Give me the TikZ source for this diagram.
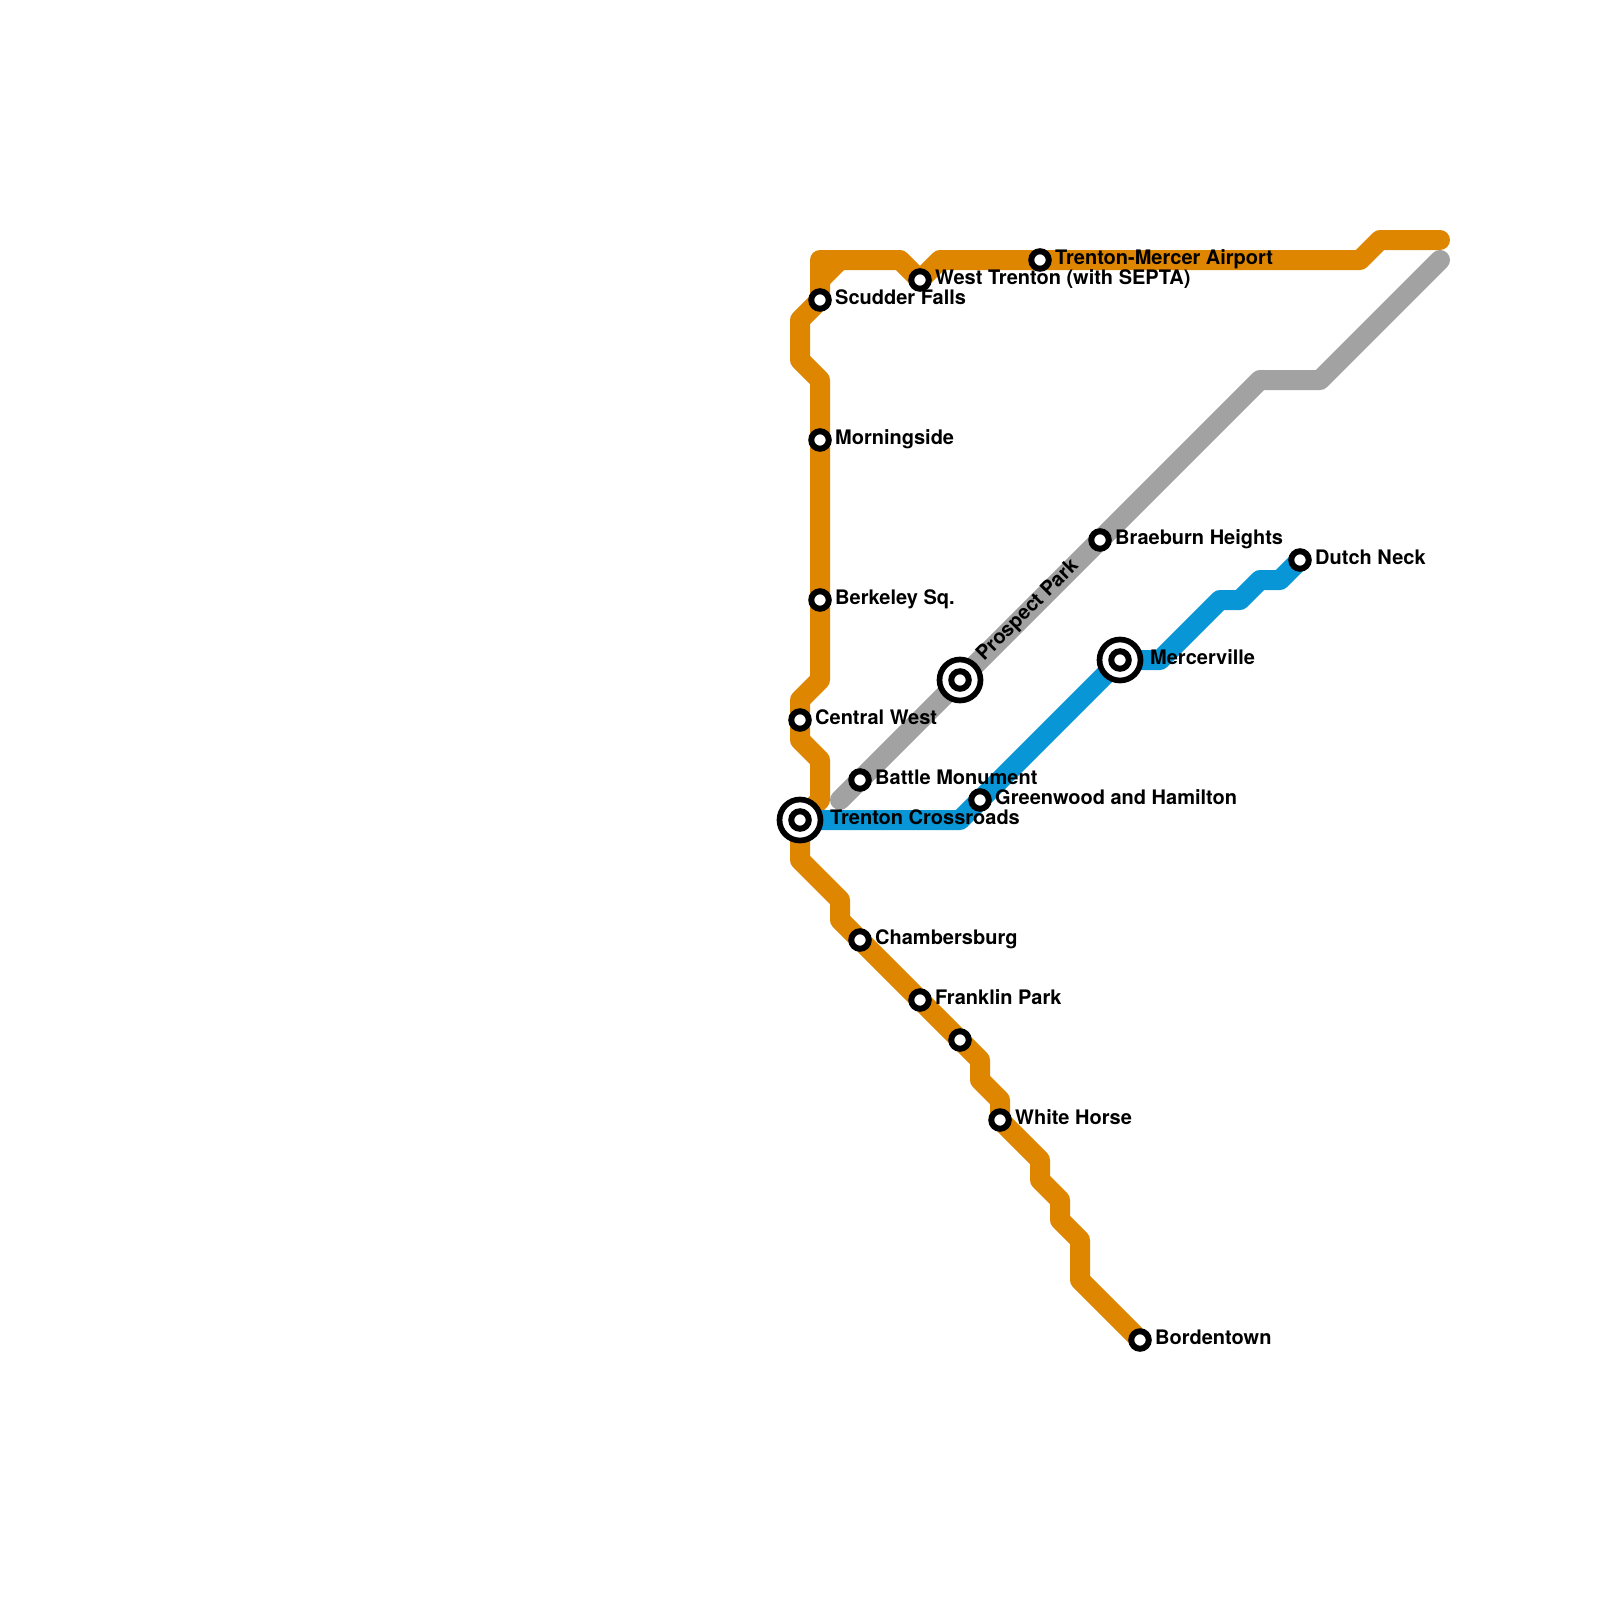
\documentclass[tikz,border=0pt]{standalone}
\usepackage{fontspec}
\setmainfont{TeX Gyre Heros}
\definecolor{lineOrange}{RGB}{223,134,0}
\definecolor{lineBlue}{RGB}{8,150,215}
\definecolor{lineGray}{RGB}{162,162,162}
\usetikzlibrary{positioning,calc}

\begin{document}
\begin{tikzpicture}[
    x=20pt, y=-20pt,
    route/.style={line width=20pt, line join=round, line cap=round},
    stn/.style={circle, draw=black, fill=white, line width=6pt, minimum size=17.5pt, inner sep=0pt, outer sep=0pt},
    hub/.style={circle, draw=black, fill=white, line width=5.7pt, minimum size=41pt, inner sep=0pt, outer sep=0pt},
    lbl/.style={anchor=base west, font=\fontsize{20}{22}\selectfont\bfseries, inner sep=0pt},
    stnlbl/.style={lbl, xshift=15pt, yshift=-4.5pt},
    hublbl/.style={stnlbl, xshift=15pt}
  ]
  \useasboundingbox (0,0) rectangle (80,80);

  % station positions
  \coordinate (trentonCrossroads) at (40,41);
  \coordinate (centralWest)       at (40,36);
  \coordinate (scudderFalls)      at (41,15);
  \coordinate (morningside)       at (41,22);
  \coordinate (berkeleySq)        at (41,30);
  \coordinate (westTrenton)       at (46,14);
  \coordinate (mercerAirport)     at (52,13);
  \coordinate (braeburnHeights)   at (55,27);
  \coordinate (prospectPark)      at (48,34);
  \coordinate (battleMonument)    at (43,39);
  \coordinate (greenwood)         at (49,40);
  \coordinate (mercerville)       at (56,33);
  \coordinate (dutchNeck)         at (65,28);
  \coordinate (chambersburg)      at (43,47);
  \coordinate (franklinPark)      at (46,50);
  \coordinate (noName)            at (48,52);
  \coordinate (whiteHorse)        at (50,56);
  \coordinate (bordentown)        at (57,67);

  % lines
  \draw[route, lineOrange] (bordentown) -- (54,64) -- (54,62) -- (53,61) -- (53,60) -- (52,59) -- (52,58)
    -- (whiteHorse) -- (50,55) -- (49,54) -- (49,53) -- (noName) -- (franklinPark) -- (chambersburg)
    -- (42,46) -- (42,45) -- (40,43) -- (trentonCrossroads) -- (41,40) -- (41,38) -- (40,37) -- (centralWest)
    -- (40,35) -- (41,34) -- (berkeleySq) -- (morningside) -- (41,19) -- (40,18) -- (40,16)
    -- (scudderFalls) -- (41,13) -- (45,13) -- (westTrenton) -- (47,13) -- (mercerAirport) -- (68,13) -- (69,12) -- (72,12);
  \draw[route, lineOrange] (41,14) -- (42,13);
  \draw[route, lineGray] (42,40) -- (battleMonument) -- (prospectPark) -- (braeburnHeights) -- (63,19) -- (66,19) -- (72,13);
  \draw[route, lineBlue] (trentonCrossroads) -- (48,41) -- (greenwood) -- (mercerville) -- (58,33) -- (61,30) -- (62,30)
    -- (63,29) -- (64,29) -- (dutchNeck);

  % stops
  \node[hub] (hubTrenton) at (trentonCrossroads) {};
  \node[hub] (hubProspect) at (prospectPark) {};
  \node[hub] (hubMercerville) at (mercerville) {};
  \node[stn] (stnTrenton) at (trentonCrossroads) {};
  \node[stn] (stnProspect) at (prospectPark) {};
  \node[stn] (stnMercerville) at (mercerville) {};
  \node[stn] (stnCentral) at (centralWest) {};
  \node[stn] (stnScudder) at (scudderFalls) {};
  \node[stn] (stnMorningside) at (morningside) {};
  \node[stn] (stnBerkeley) at (berkeleySq) {};
  \node[stn] (stnWest) at (westTrenton) {};
  \node[stn] (stnAirport) at (mercerAirport) {};
  \node[stn] (stnBraeburn) at (braeburnHeights) {};
  \node[stn] (stnBattle) at (battleMonument) {};
  \node[stn] (stnGreenwood) at (greenwood) {};
  \node[stn] (stnDutch) at (dutchNeck) {};
  \node[stn] (stnChambersburg) at (chambersburg) {};
  \node[stn] (stnFranklin) at (franklinPark) {};
  \node[stn] (stnNoName) at (noName) {};
  \node[stn] (stnWhite) at (whiteHorse) {};
  \node[stn] (stnBordentown) at (bordentown) {};

  % labels
  \node[hublbl] (txtTrenton) at (trentonCrossroads) {Trenton Crossroads};
  \node[hublbl] (txtMercerville) at (mercerville) {Mercerville};
  \node[lbl, rotate=45] (txtProspect) at ($(prospectPark)+(1.2,-0.9)$) {Prospect Park};
  \node[stnlbl] (txtCentral) at (centralWest) {Central West};
  \node[stnlbl] (txtScudder) at (scudderFalls) {Scudder Falls};
  \node[stnlbl] (txtMorningside) at (morningside) {Morningside};
  \node[stnlbl] (txtBerkeley) at (berkeleySq) {Berkeley Sq.};
  \node[stnlbl] (txtWest) at (westTrenton) {West Trenton (with SEPTA)};
  \node[stnlbl] (txtAirport) at (mercerAirport) {Trenton-Mercer Airport};
  \node[stnlbl] (txtBraeburn) at (braeburnHeights) {Braeburn Heights};
  \node[stnlbl] (txtBattle) at (battleMonument) {Battle Monument};
  \node[stnlbl] (txtGreenwood) at (greenwood) {Greenwood and Hamilton};
  \node[stnlbl] (txtDutch) at (dutchNeck) {Dutch Neck};
  \node[stnlbl] (txtChambersburg) at (chambersburg) {Chambersburg};
  \node[stnlbl] (txtFranklin) at (franklinPark) {Franklin Park};
  \node[stnlbl] (txtWhite) at (whiteHorse) {White Horse};
  \node[stnlbl] (txtBordentown) at (bordentown) {Bordentown};
\end{tikzpicture}
\end{document}
